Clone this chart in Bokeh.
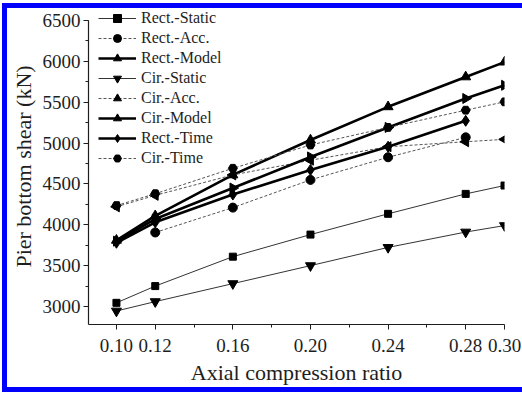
import math
from bokeh.plotting import figure
from bokeh.models import FixedTicker, SingleIntervalTicker, PrintfTickFormatter
from bokeh.embed import file_html
from bokeh.resources import INLINE

# ---- data ----
ratio = [0.10, 0.12, 0.16, 0.20, 0.24, 0.28, 0.30]
ratio_acc = [0.12, 0.16, 0.20, 0.24, 0.28]
ratio_time = [0.10, 0.12, 0.16, 0.20, 0.24, 0.28]

rect_static = [3045, 3250, 3610, 3880, 4134, 4378, 4480]
rect_acc = [3906, 4210, 4549, 4826, 5070]
rect_model = [3810, 4110, 4610, 5037, 5443, 5809, 5990]
cir_static = [2945, 3060, 3280, 3500, 3723, 3911, 3990]
cir_acc = [4220, 4360, 4610, 4790, 4955, 5016, 5045]
cir_model = [3800, 4070, 4450, 4830, 5191, 5545, 5707]
rect_time = [3780, 4030, 4370, 4671, 4955, 5272]
cir_time = [4235, 4380, 4691, 4976, 5191, 5402, 5504]

x_major = [0.10, 0.12, 0.16, 0.20, 0.24, 0.28, 0.30]
x_minor = [0.14, 0.18, 0.22, 0.26]

FONT = "Liberation Serif"
INK = "#1e1e1e"

p = figure(width=515, height=379, x_range=(0.0856, 0.30), y_range=(2780, 6646),
           output_backend="svg", toolbar_location=None,
           min_border_left=81, min_border_right=18, min_border_top=0, min_border_bottom=62,
           styles={"margin-left": "7px", "margin-top": "8px",
                   "box-shadow": "0 0 0 5px #0000ff"})
p.outline_line_color = None
p.xgrid.visible = False
p.ygrid.visible = False

# series: (label, x, y, marker, angle, line_width, dash, color, size)
series = [
    ("Rect.-Static", ratio, rect_static, "square", 0.0, 1.0, "solid", "#333333", 7),
    ("Rect.-Acc.", ratio_acc, rect_acc, "circle", 0.0, 1.0, "3 2", "#555555", 9),
    ("Rect.-Model", ratio, rect_model, "triangle", 0.0, 2.6, "solid", "#000000", 10),
    ("Cir.-Static", ratio, cir_static, "inverted_triangle", 0.0, 1.0, "solid", "#333333", 10),
    ("Cir.-Acc.", ratio, cir_acc, "triangle", math.pi / 2, 1.0, "3 2", "#555555", 10),
    ("Cir.-Model", ratio, cir_model, "triangle", -math.pi / 2, 2.6, "solid", "#000000", 10),
    ("Rect.-Time", ratio_time, rect_time, "diamond", 0.0, 2.6, "solid", "#000000", 11),
    ("Cir.-Time", ratio, cir_time, "hex", 0.0, 1.0, "3 2", "#555555", 9),
]

for label, xs, ys, marker, ang, lw, dash, col, sz in series:
    p.line(xs, ys, line_width=lw, line_dash=dash, line_color=col, legend_label=label)
    p.scatter(xs, ys, marker=marker, angle=ang, size=sz, fill_color="#000000",
              line_color="#000000", legend_label=label)

# axes
xa = p.xaxis[0]
xa.ticker = FixedTicker(ticks=x_major, minor_ticks=x_minor)
xa.formatter = PrintfTickFormatter(format="%.2f")
xa.axis_label = "Axial compression ratio"
ya = p.yaxis[0]
ya.ticker = SingleIntervalTicker(interval=500, num_minor_ticks=2)
ya.axis_label = "Pier bottom shear (kN)"
ya.bounds = (2780, 6500)

for ax in (xa, ya):
    ax.axis_line_color = INK
    ax.axis_line_width = 1.2
    ax.major_tick_line_color = INK
    ax.minor_tick_line_color = INK
    ax.major_tick_out = 5
    ax.major_tick_in = 0
    ax.minor_tick_out = 3
    ax.minor_tick_in = 0
    ax.major_label_text_font = FONT
    ax.major_label_text_font_size = "19px"
    ax.major_label_text_color = INK
    ax.axis_label_text_font = FONT
    ax.axis_label_text_font_size = "22px"
    ax.axis_label_text_font_style = "normal"
    ax.axis_label_text_color = INK
ya.major_label_standoff = 3
ya.axis_label_standoff = 4
xa.major_label_standoff = 9
xa.axis_label_standoff = 5

lg = p.legend[0]
lg.location = (10, 156)
lg.border_line_color = None
lg.background_fill_alpha = 0
lg.padding = 0
lg.margin = 0
lg.spacing = 0
lg.label_height = 20
lg.glyph_height = 20
lg.glyph_width = 38
lg.label_standoff = 5
lg.label_text_font = FONT
lg.label_text_font_size = "16px"
lg.label_text_color = INK

open("out.html", "w").write(file_html(p, INLINE))
